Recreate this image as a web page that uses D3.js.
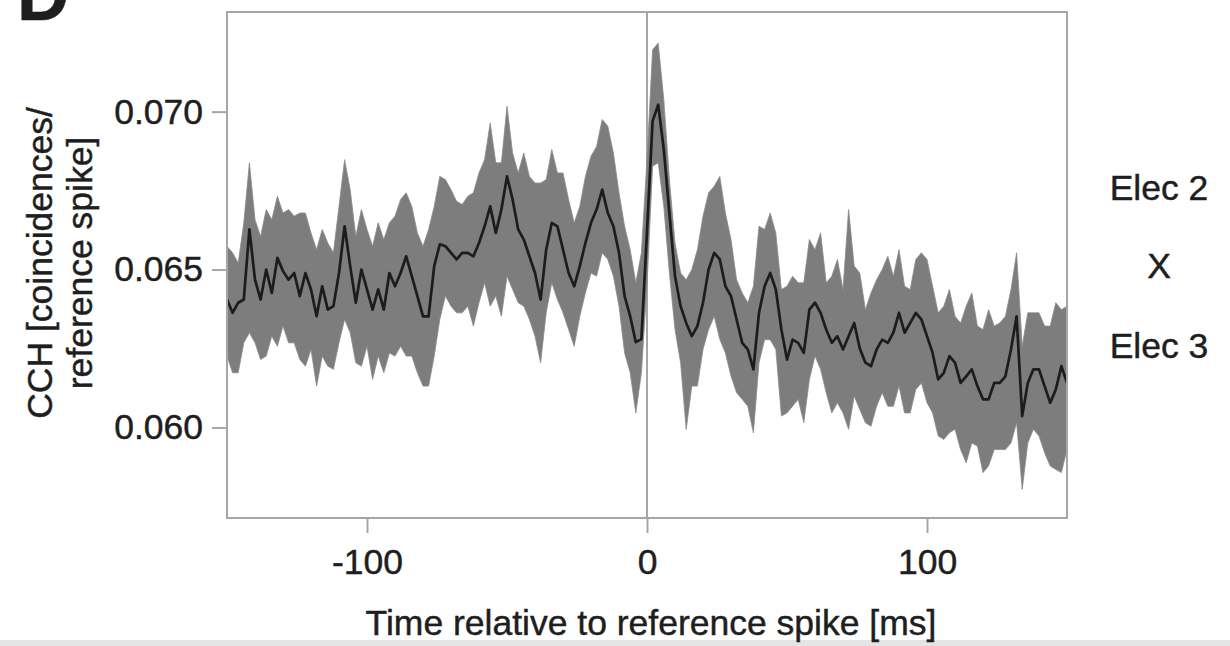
<!DOCTYPE html>
<html>
<head>
<meta charset="utf-8">
<script src="https://cdn.jsdelivr.net/npm/d3@7"></script>
<style>
  html, body { margin: 0; padding: 0; background: #fff; }
  svg { display: block; }
  text { font-family: "Liberation Sans", Arial, Helvetica, sans-serif; fill: #1e1e1e; stroke: #1e1e1e; stroke-width: 0.45px; }
</style>
</head>
<body>
<svg id="chart" width="1230" height="646"></svg>
<script>
// ---- Data ----
const timeMs = [
 -150,-148,-146,-144,-142,-140,-138,-136,-134,-132,-130,-128,-126,-124,-122,-120,-118,-116,-114,-112,
 -110,-108,-106,-104,-102,-100,-98,-96,-94,-92,-90,-88,-86,-84,-82,-80,-78,-76,-74,-72,
 -70,-68,-66,-64,-62,-60,-58,-56,-54,-52,-50,-48,-46,-44,-42,-40,-38,-36,-34,-32,
 -30,-28,-26,-24,-22,-20,-18,-16,-14,-12,-10,-8,-6,-4,-2,0,2,4,6,8,
 10,12,14,16,18,20,22,24,26,28,30,32,34,36,38,40,42,44,46,48,
 50,52,54,56,58,60,62,64,66,68,70,72,74,76,78,80,82,84,86,88,
 90,92,94,96,98,100,102,104,106,108,110,112,114,116,118,120,122,124,126,128,
 130,132,134,136,138,140,142,144,146,148,150
];
const cchMean = [
 0.06405,0.06363,0.06395,0.06405,0.06627,0.06468,0.06405,0.06500,0.06426,0.06537,0.06495,0.06468,0.06489,0.06416,0.06489,0.06437,0.06352,0.06447,0.06373,0.06384,
 0.06489,0.06637,0.06511,0.06395,0.06500,0.06437,0.06373,0.06437,0.06373,0.06489,0.06447,0.06489,0.06542,0.06479,0.06416,0.06352,0.06352,0.06511,0.06580,0.06574,
 0.06553,0.06532,0.06553,0.06553,0.06542,0.06584,0.06637,0.06700,0.06616,0.06690,0.06795,0.06722,0.06627,0.06595,0.06542,0.06489,0.06405,0.06563,0.06648,0.06637,
 0.06563,0.06489,0.06447,0.06511,0.06584,0.06648,0.06690,0.06753,0.06679,0.06637,0.06553,0.06416,0.06352,0.06270,0.06280,0.06620,0.06970,0.07022,0.06880,0.06679,
 0.06479,0.06384,0.06331,0.06289,0.06321,0.06395,0.06500,0.06553,0.06532,0.06447,0.06416,0.06342,0.06268,0.06247,0.06184,0.06363,0.06447,0.06489,0.06437,0.06310,
 0.06215,0.06278,0.06268,0.06236,0.06373,0.06395,0.06363,0.06310,0.06268,0.06289,0.06247,0.06289,0.06331,0.06250,0.06205,0.06194,0.06247,0.06278,0.06268,0.06300,
 0.06363,0.06300,0.06331,0.06363,0.06342,0.06289,0.06236,0.06152,0.06173,0.06226,0.06205,0.06141,0.06162,0.06184,0.06131,0.06089,0.06089,0.06141,0.06141,0.06162,
 0.06247,0.06352,0.06036,0.06141,0.06184,0.06184,0.06131,0.06078,0.06120,0.06194,0.06141
];
const cchUpper = [
 0.06574,0.06553,0.06521,0.06648,0.06838,0.06658,0.06605,0.06690,0.06658,0.06732,0.06679,0.06690,0.06669,0.06679,0.06679,0.06616,0.06563,0.06627,0.06584,0.06553,
 0.06700,0.06848,0.06753,0.06605,0.06690,0.06627,0.06574,0.06648,0.06595,0.06648,0.06669,0.06722,0.06743,0.06700,0.06616,0.06574,0.06627,0.06700,0.06795,0.06785,
 0.06753,0.06716,0.06706,0.06732,0.06743,0.06806,0.06848,0.06964,0.06838,0.06838,0.07017,0.06869,0.06806,0.06869,0.06795,0.06774,0.06774,0.06785,0.06880,0.06806,
 0.06806,0.06722,0.06648,0.06700,0.06795,0.06859,0.06890,0.06975,0.06954,0.06869,0.06743,0.06637,0.06563,0.06458,0.06553,0.06850,0.07196,0.07217,0.07038,0.06785,
 0.06584,0.06489,0.06468,0.06500,0.06563,0.06669,0.06743,0.06764,0.06795,0.06679,0.06595,0.06468,0.06426,0.06395,0.06447,0.06637,0.06627,0.06679,0.06616,0.06437,
 0.06447,0.06479,0.06458,0.06458,0.06595,0.06563,0.06616,0.06458,0.06479,0.06532,0.06437,0.06690,0.06511,0.06489,0.06373,0.06426,0.06468,0.06500,0.06542,0.06479,
 0.06563,0.06447,0.06437,0.06532,0.06553,0.06532,0.06447,0.06363,0.06384,0.06437,0.06352,0.06331,0.06384,0.06426,0.06321,0.06310,0.06373,0.06321,0.06331,0.06352,
 0.06437,0.06553,0.06257,0.06363,0.06363,0.06363,0.06321,0.06321,0.06395,0.06373,0.06384
];
const cchLower = [
 0.06226,0.06173,0.06173,0.06268,0.06300,0.06268,0.06215,0.06226,0.06289,0.06257,0.06321,0.06268,0.06268,0.06215,0.06194,0.06247,0.06131,0.06226,0.06194,0.06184,
 0.06268,0.06342,0.06300,0.06205,0.06194,0.06257,0.06152,0.06226,0.06173,0.06236,0.06226,0.06257,0.06226,0.06226,0.06173,0.06131,0.06131,0.06226,0.06342,0.06416,
 0.06384,0.06363,0.06363,0.06384,0.06321,0.06395,0.06458,0.06384,0.06416,0.06352,0.06479,0.06437,0.06395,0.06384,0.06342,0.06289,0.06205,0.06363,0.06458,0.06405,
 0.06363,0.06310,0.06257,0.06352,0.06426,0.06489,0.06479,0.06553,0.06532,0.06479,0.06384,0.06236,0.06173,0.06046,0.06173,0.06450,0.06827,0.06838,0.06700,0.06489,
 0.06310,0.06205,0.05994,0.06131,0.06131,0.06247,0.06310,0.06352,0.06279,0.06236,0.06162,0.06110,0.06089,0.06067,0.05983,0.06205,0.06278,0.06278,0.06247,0.06036,
 0.06046,0.06067,0.06089,0.06015,0.06152,0.06226,0.06184,0.06110,0.06046,0.06078,0.06046,0.05994,0.06099,0.06057,0.06015,0.06004,0.06067,0.06110,0.06067,0.06067,
 0.06131,0.06046,0.06046,0.06120,0.06141,0.06078,0.06046,0.05973,0.05962,0.05983,0.05994,0.05930,0.05888,0.05951,0.05941,0.05857,0.05878,0.05930,0.05930,0.05930,
 0.05951,0.06015,0.05804,0.05951,0.05994,0.05973,0.05920,0.05878,0.05867,0.05857,0.05930
];
const xTicks = [-100, 0, 100];
const yTicks = [0.060, 0.065, 0.070];
const xDomain = [-150, 150];
const yDomain = [0.057133, 0.073155];
const xTitle = "Time relative to reference spike [ms]";
const yTitleLines = ["CCH [coincidences/", "reference spike]"];
const sideLabels = ["Elec 2", "X", "Elec 3"];
const panelLetter = "D";

// ---- Layout ----
const svg = d3.select("#chart");
const plot = { left: 227, right: 1067, top: 12, bottom: 518 };
const frameColor = "#a6a6a6";
const fontSize = 35.5;

const x = d3.scaleLinear().domain(xDomain).range([plot.left, plot.right]);
const y = d3.scaleLinear().domain(yDomain).range([plot.bottom, plot.top]);

const rows = timeMs.map((t, i) => ({ t, m: cchMean[i], hi: cchUpper[i], lo: cchLower[i] }));

// bottom light strip (scan artefact of the source)
svg.append("rect").attr("x", 0).attr("y", 640).attr("width", 1230).attr("height", 6).attr("fill", "#e4e4e4");

// zero line
svg.append("line")
  .attr("x1", x(0)).attr("x2", x(0))
  .attr("y1", plot.top).attr("y2", plot.bottom)
  .attr("stroke", frameColor).attr("stroke-width", 2);

// band
const area = d3.area().x(d => x(d.t)).y0(d => y(d.lo)).y1(d => y(d.hi));
svg.append("path").datum(rows)
  .attr("d", area)
  .attr("fill", "#7d7d7d")
  .attr("stroke", "#8a8a8a").attr("stroke-width", 0.8);

// mean line
const line = d3.line().x(d => x(d.t)).y(d => y(d.m));
svg.append("path").datum(rows)
  .attr("d", line)
  .attr("fill", "none")
  .attr("stroke", "#1c1c1c").attr("stroke-width", 2.7)
  .attr("stroke-linejoin", "round");

// frame
svg.append("rect")
  .attr("x", plot.left).attr("y", plot.top)
  .attr("width", plot.right - plot.left).attr("height", plot.bottom - plot.top)
  .attr("fill", "none").attr("stroke", frameColor).attr("stroke-width", 2);

// axes
const xAxis = d3.axisBottom(x).tickValues(xTicks).tickSize(15).tickPadding(16).tickFormat(d3.format("d"));
const gx = svg.append("g").attr("transform", `translate(0,${plot.bottom})`).call(xAxis);
const yAxis = d3.axisLeft(y).tickValues(yTicks).tickSize(15).tickPadding(9).tickFormat(d3.format(".3f"));
const gy = svg.append("g").attr("transform", `translate(${plot.left},0)`).call(yAxis);
[gx, gy].forEach(g => {
  g.select(".domain").remove();
  g.selectAll(".tick line").attr("stroke", frameColor).attr("stroke-width", 2);
  g.selectAll(".tick text")
    .attr("fill", "#1e1e1e")
    .style("font-family", '"Liberation Sans", Arial, Helvetica, sans-serif')
    .style("font-size", fontSize + "px");
});
gx.selectAll(".tick text").text(d => d < 0 ? "-" + Math.abs(d) : String(d));

// axis titles
svg.append("text")
  .attr("x", 651).attr("y", 635)
  .attr("text-anchor", "middle")
  .style("font-size", fontSize + "px")
  .text(xTitle);

const yTitleX = [52, 92];
yTitleLines.forEach((s, i) => {
  svg.append("text")
    .attr("transform", `translate(${yTitleX[i]},263) rotate(-90)`)
    .attr("text-anchor", "middle")
    .style("font-size", fontSize + "px")
    .text(s);
});

// right-hand labels
const sideY = [200, 278, 358];
sideLabels.forEach((s, i) => {
  svg.append("text")
    .attr("x", 1159).attr("y", sideY[i])
    .attr("text-anchor", "middle")
    .style("font-size", fontSize + "px")
    .text(s);
});

// panel letter (cut off at the top edge, as in the reference)
svg.append("text")
  .attr("x", 17).attr("y", 20)
  .style("font-size", "72px")
  .style("font-weight", "bold")
  .attr("fill", "#111")
  .text(panelLetter);
</script>
</body>
</html>
